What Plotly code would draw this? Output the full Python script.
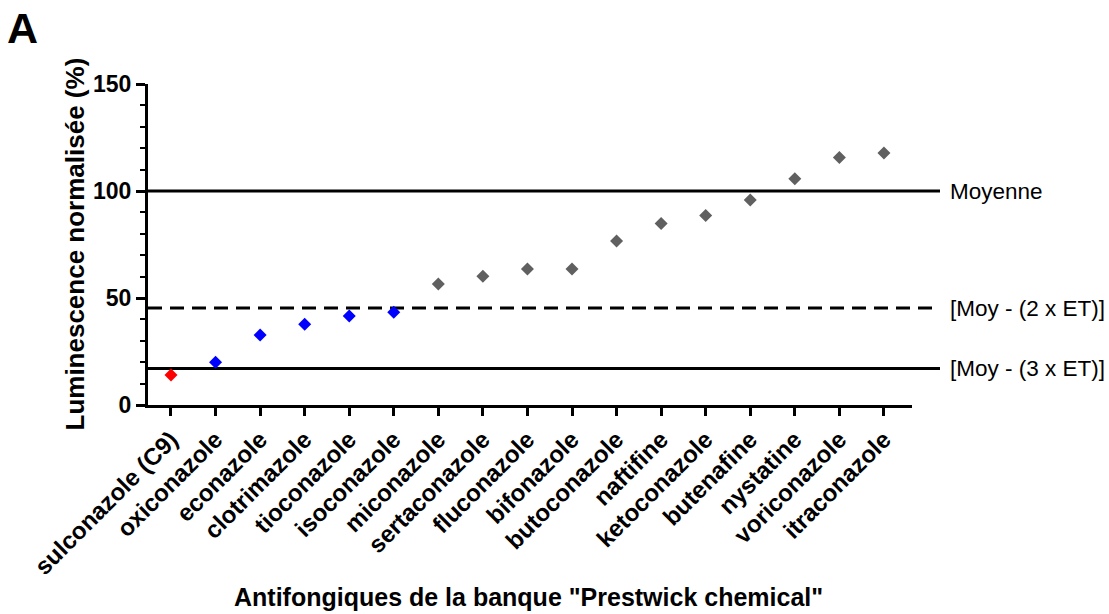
import plotly.graph_objects as go

compounds = ["sulconazole (C9)", "oxiconazole", "econazole", "clotrimazole", "tioconazole",
             "isoconazole", "miconazole", "sertaconazole", "fluconazole", "bifonazole",
             "butoconazole", "naftifine", "ketoconazole", "butenafine", "nystatine",
             "voriconazole", "itraconazole"]
luminescence = [14, 20, 32.7, 37.7, 41.6, 43.3, 56.6, 60.2, 63.6, 63.6,
                76.6, 84.8, 88.6, 95.8, 105.7, 115.7, 117.7]
colors = ["#FF0000"] + ["#0000FF"] * 5 + ["#606060"] * 11

threshold_values = [100, 45.3, 17.1]
threshold_labels = ["Moyenne", "[Moy - (2 x ET)]", "[Moy - (3 x ET)]"]
threshold_dash = ["solid", "14px,8px", "solid"]

y_ticks = [0, 50, 100, 150]

FONT = "Arial, Liberation Sans, sans-serif"
x_idx = list(range(len(compounds)))

fig = go.Figure()
fig.add_trace(go.Scatter(
    x=x_idx, y=luminescence, mode="markers",
    marker=dict(symbol="diamond", size=10, color=colors, line=dict(width=0)),
    cliponaxis=False, showlegend=False, hoverinfo="text", text=compounds,
))

L, R, T, B = 148, 197, 84, 209
W, H = 1109, 614
pw = W - L - R
ph = H - T - B

def px_to_paper_x(px):
    return (px - L) / pw

def px_to_paper_y(py):
    return (H - B - py) / ph

shapes = []
annotations = []
for val, lab, dash in zip(threshold_values, threshold_labels, threshold_dash):
    shapes.append(dict(type="line", xref="paper", yref="y", x0=0, x1=px_to_paper_x(940),
                       y0=val, y1=val, line=dict(color="black", width=3, dash=dash),
                       layer="below"))
    annotations.append(dict(xref="paper", yref="y", x=px_to_paper_x(948), y=val,
                            xanchor="left", yanchor="middle", text=lab, showarrow=False,
                            font=dict(family=FONT, size=22.5, color="black")))

annotations.append(dict(xref="paper", yref="paper", x=px_to_paper_x(5), y=px_to_paper_y(28),
                        xanchor="left", yanchor="middle", text="<b>A</b>", showarrow=False,
                        font=dict(family=FONT, size=43, color="black")))
annotations.append(dict(xref="paper", yref="paper", x=px_to_paper_x(74), y=0.5,
                        xanchor="center", yanchor="middle", textangle=-90,
                        text="<b>Luminescence normalisée (%)</b>", showarrow=False,
                        font=dict(family=FONT, size=26, color="black")))
annotations.append(dict(xref="paper", yref="paper", x=px_to_paper_x(528), y=px_to_paper_y(613),
                        xanchor="center", yanchor="bottom",
                        text="<b>Antifongiques de la banque \"Prestwick chemical\"</b>",
                        showarrow=False, font=dict(family=FONT, size=25, color="black")))

fig.update_layout(
    width=W, height=H,
    margin=dict(l=L, r=R, t=T, b=B, pad=0),
    plot_bgcolor="white", paper_bgcolor="white",
    shapes=shapes, annotations=annotations,
    xaxis=dict(
        range=[-0.516, 16.63], tickmode="array", tickvals=x_idx, ticktext=compounds,
        tickangle=-45, showgrid=False, zeroline=False, showline=True,
        linecolor="black", linewidth=3, ticks="outside", ticklen=8, tickwidth=3,
        tickcolor="black", fixedrange=True,
        tickfont=dict(family=FONT, size=24, color="black", weight="bold"),
    ),
    yaxis=dict(
        range=[0, 150], tickmode="array", tickvals=y_ticks,
        showgrid=False, zeroline=False, showline=True,
        linecolor="black", linewidth=3, ticks="outside", ticklen=9, tickwidth=3,
        tickcolor="black", fixedrange=True, ticklabelstandoff=0,
        minor=dict(dtick=10, ticks="outside", ticklen=5, tickwidth=2, tickcolor="black"),
        tickfont=dict(family=FONT, size=23, color="black", weight="bold"),
    ),
)

fig.write_html("out.html", config={"displayModeBar": False},
               post_script="document.body.style.margin='0';document.body.style.overflow='hidden';")
